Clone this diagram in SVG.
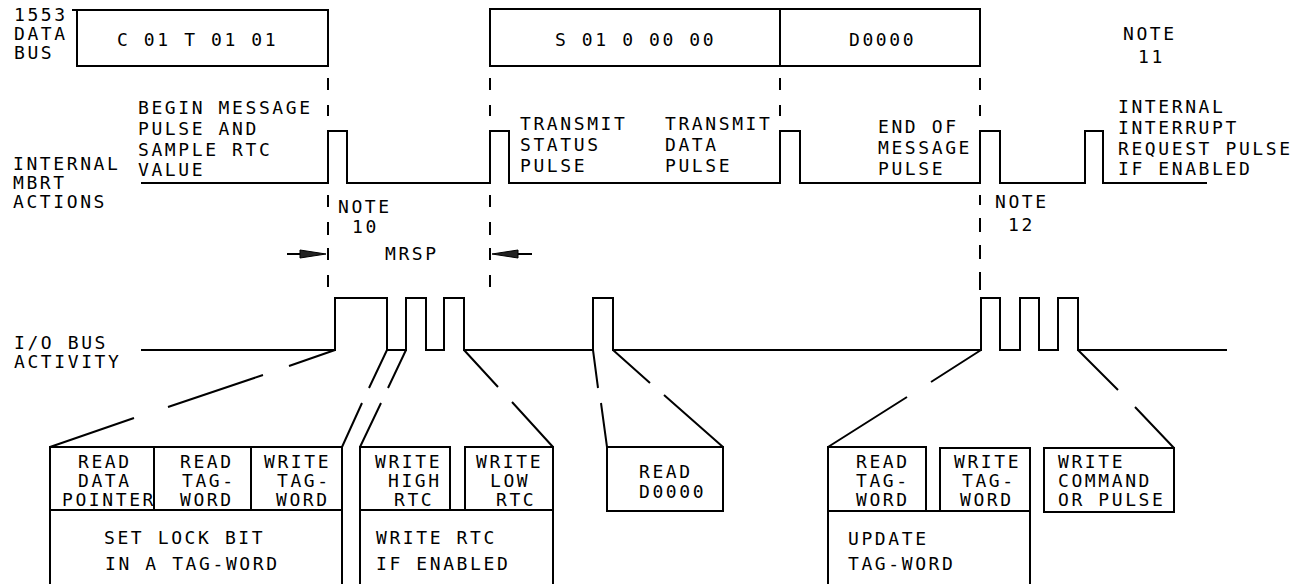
<svg xmlns="http://www.w3.org/2000/svg" width="1306" height="584" viewBox="0 0 1306 584">
<style>
text{font-family:"DejaVu Sans Mono","Liberation Mono",monospace;font-size:18px;letter-spacing:2.6px;fill:#000}
.s{fill:none;stroke:#000;stroke-width:2}
.ah{fill:#222;stroke:#000;stroke-width:1}
</style>
<rect width="1306" height="584" fill="#fff"/>

<g id="labels">
<text x="14" y="21">1553</text><text x="14" y="40">DATA</text><text x="14" y="59">BUS</text>
<text x="13" y="170">INTERNAL</text><text x="13" y="189">MBRT</text><text x="13" y="208">ACTIONS</text>
<text x="14" y="349">I/O BUS</text><text x="14" y="368">ACTIVITY</text>
<text x="1123" y="40">NOTE</text><text x="1138" y="63">11</text>
</g>

<g id="bus-command">
<path class="s" d="M72,10H328V66H77V10"/>
<text x="117" y="46">C 01 T 01 01</text>
</g>
<g id="bus-status">
<rect class="s" x="490" y="9" width="290" height="57"/>
<text x="555" y="46">S 01 0 00 00</text>
</g>
<g id="bus-data">
<rect class="s" x="780" y="9" width="200" height="57"/>
<text x="849" y="46">D0000</text>
</g>

<g id="mbrt-waveform">
<path class="s" d="M141,183H328V131H347V183H490V131H509V183H780V131H800V183H980V131H1000V183H1085V131H1103V183H1207"/>
<text x="138" y="114">BEGIN MESSAGE</text><text x="138" y="135">PULSE AND</text><text x="138" y="156">SAMPLE RTC</text><text x="138" y="176">VALUE</text>
<text x="520" y="130">TRANSMIT</text><text x="520" y="151">STATUS</text><text x="520" y="172">PULSE</text>
<text x="665" y="130">TRANSMIT</text><text x="665" y="151">DATA</text><text x="665" y="172">PULSE</text>
<text x="878" y="133">END OF</text><text x="878" y="154">MESSAGE</text><text x="878" y="175">PULSE</text>
<text x="1118" y="113">INTERNAL</text><text x="1118" y="134">INTERRUPT</text><text x="1118" y="155">REQUEST PULSE</text><text x="1118" y="175">IF ENABLED</text>
</g>

<g id="mrsp">
<text x="338" y="213">NOTE</text><text x="352" y="233">10</text>
<text x="385" y="260">MRSP</text>
</g>
<g id="note12">
<text x="995" y="208">NOTE</text><text x="1008" y="231">12</text>
</g>

<g id="io-waveform">
<path class="s" d="M141,350H335V298H387V350H406V298H426V350H444V298H464V350H593V298H613V350H981V298H1000V350H1020V298H1039V350H1058V298H1078V350H1227"/>
</g>

<g id="box-lock">
<path class="s" d="M50,584V447H342V584M154,447V510M251,447V510M50,510H342"/>
<text x="78" y="468">READ</text><text x="78" y="487">DATA</text><text x="62" y="506">POINTER</text>
<text x="180" y="468">READ</text><text x="182" y="487">TAG-</text><text x="180" y="506">WORD</text>
<text x="264" y="468">WRITE</text><text x="277" y="487">TAG-</text><text x="276" y="506">WORD</text>
<text x="104" y="544">SET LOCK BIT</text><text x="105" y="570">IN A TAG-WORD</text>
</g>
<g id="box-rtc">
<path class="s" d="M360,584V447H450V510M465,510V447H553V584M360,510H553"/>
<text x="375" y="468">WRITE</text><text x="388" y="487">HIGH</text><text x="394" y="506">RTC</text>
<text x="476" y="468">WRITE</text><text x="490" y="487">LOW</text><text x="496" y="506">RTC</text>
<text x="376" y="544">WRITE RTC</text><text x="376" y="570">IF ENABLED</text>
</g>
<g id="box-read">
<rect class="s" x="607" y="447" width="116" height="64"/>
<text x="639" y="478">READ</text><text x="639" y="498">D0000</text>
</g>
<g id="box-update">
<path class="s" d="M828,584V447H926V511M940,511V448H1030V584M828,511H1030"/>
<text x="856" y="468">READ</text><text x="856" y="487">TAG-</text><text x="856" y="506">WORD</text>
<text x="954" y="468">WRITE</text><text x="962" y="487">TAG-</text><text x="960" y="506">WORD</text>
<text x="848" y="545">UPDATE</text><text x="848" y="570">TAG-WORD</text>
</g>
<g id="box-command">
<rect class="s" x="1044" y="448" width="130" height="64"/>
<text x="1058" y="468">WRITE</text><text x="1058" y="487">COMMAND</text><text x="1058" y="506">OR PULSE</text>
</g>

<g id="connectors">
<path class="s" d="M328,78V90M328,105V116M328,195V207M328,222V235M328,248V260M328,275V287"/>
<path class="s" d="M490,78V90M490,105V116M490,195V207M490,222V235M490,248V260M490,275V287"/>
<path class="s" d="M780,78V90M780,105V116"/>
<path class="s" d="M980,78V90M980,105V116M980,195V205M980,218V232M980,245V259M980,272V290"/>
<path class="s" d="M287,254H300M518,254H532"/>
<polygon class="ah" points="300,250 326,254 300,258"/>
<polygon class="ah" points="518,250 492,254 518,258"/>
<path class="s" d="M335,350L289,366M263,375L168,407M134,418L50,447"/>
<path class="s" d="M387,350L369,388M362,403L342,447"/>
<path class="s" d="M406,350L388,388M381,403L360,447"/>
<path class="s" d="M464,350L498,387M512,402L553,447"/>
<path class="s" d="M593,350L598,388M601,403L607,447"/>
<path class="s" d="M613,350L650,383M664,395L723,447"/>
<path class="s" d="M981,350L931,382M907,397L828,447"/>
<path class="s" d="M1078,350L1118,390M1135,407L1174,448"/>
</g>
</svg>
